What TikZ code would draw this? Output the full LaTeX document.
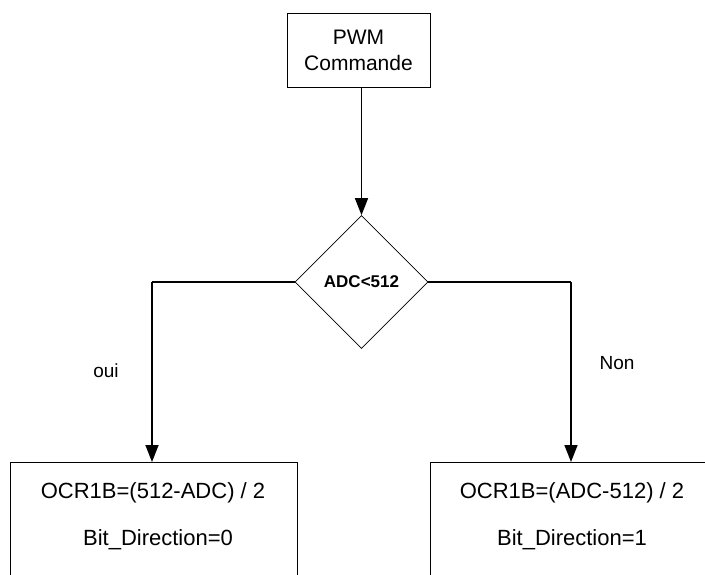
\documentclass[tikz,border=0pt]{standalone}
\usepackage{fontspec}
\setmainfont{Liberation Sans}
\usetikzlibrary{arrows.meta,shapes.geometric}
\begin{document}
\begin{tikzpicture}[x=1pt,y=-1pt,
  box/.style={draw,line width=0.8pt,inner sep=0pt},
  conn/.style={line width=1.6pt,-{Triangle[length=17pt,width=13pt]}},
  plain/.style={line width=1.6pt},
  txt/.style={font=\fontsize{22}{26}\selectfont},
  lbl/.style={font=\fontsize{19}{22}\selectfont}]
\clip (0,0) rectangle (705,575);
\fill[white] (0,0) rectangle (705,575);
% top box
\node[box,minimum width=143pt,minimum height=74pt,align=center,font=\fontsize{21}{26}\selectfont] (pwm) at (358.5,50) {PWM\\Commande};
% diamond
\node[draw,line width=0.7pt,diamond,minimum width=133pt,minimum height=133pt,inner sep=0pt,font=\bfseries\fontsize{17}{20}\selectfont] (dec) at (361.5,282) {ADC<512};
% bottom boxes
\node[box,minimum width=287pt,minimum height=140pt,anchor=north] (left) at (153.5,462) {};
\node[box,minimum width=276pt,minimum height=140pt,anchor=north] (right) at (568,462) {};
\node[txt] (l1) at (153,493) {OCR1B=(512-ADC) / 2};
\node[txt] (l2) at (158,540) {Bit\_Direction=0};
\node[txt] (r1) at (572,493) {OCR1B=(ADC-512) / 2};
\node[txt] (r2) at (572,540) {Bit\_Direction=1};
% labels
\node[lbl] (oui) at (106,371) {oui};
\node[lbl] (non) at (617,363) {Non};
% connectors
\coordinate (lc) at (152,282);
\coordinate (rc) at (571,282);
\draw[conn] (pwm.south -| dec.north) -- (dec.north);
\draw[plain] (dec.west) -- (lc);
\draw[conn] (lc) -- (lc |- left.north);
\draw[plain] (dec.east) -- (rc);
\draw[conn] (rc) -- (rc |- right.north);
\end{tikzpicture}
\end{document}
